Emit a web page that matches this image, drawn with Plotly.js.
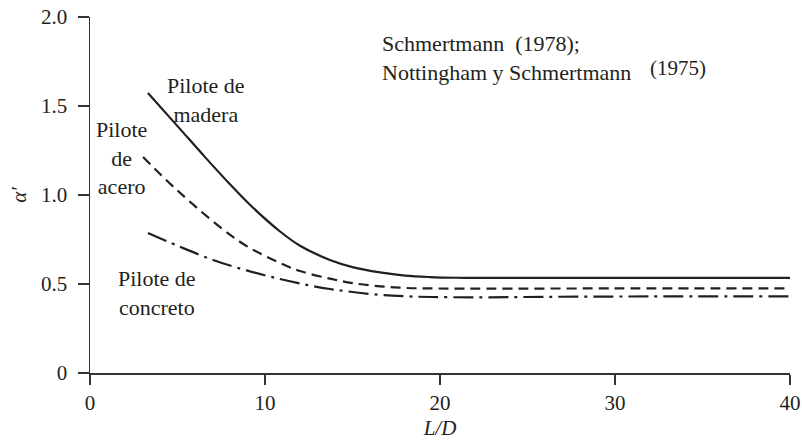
<!DOCTYPE html>
<html>
<head>
<meta charset="utf-8">
<script src="https://cdn.plot.ly/plotly-3.0.1.min.js"></script>
<style>html,body{margin:0;padding:0;background:#fff;}#chart{width:802px;height:442px;}</style>
</head>
<body>
<div id="chart"></div>
<script>
// Pilote de madera (solid)
const maderaX = [3.31, 5, 6.6, 8, 9.14, 10.86, 12, 13.71, 15, 16.57, 18, 19.43, 21, 22.3, 30, 40];
const maderaY = [1.573, 1.387, 1.21, 1.06, 0.945, 0.795, 0.715, 0.635, 0.595, 0.565, 0.547, 0.539, 0.535, 0.534, 0.534, 0.534];
// Pilote de acero (dashed)
const aceroX = [3.03, 5, 7.43, 9, 10.86, 12, 13.71, 15, 16.57, 18, 19.5, 30, 40];
const aceroY = [1.213, 1.025, 0.82, 0.71, 0.618, 0.573, 0.53, 0.505, 0.487, 0.478, 0.475, 0.475, 0.475];
// Pilote de concreto (dash-dot)
const concretoX = [3.31, 5, 7.03, 9, 10.86, 12.5, 13.71, 15, 16.57, 18, 19.5, 22, 26, 32, 40];
const concretoY = [0.787, 0.715, 0.635, 0.575, 0.528, 0.493, 0.472, 0.455, 0.439, 0.431, 0.427, 0.425, 0.428, 0.43, 0.43];

const xTicks = [0, 10, 20, 30, 40];
const xTickText = ['0', '10', '20', '30', '40'];
const yTicks = [0, 0.5, 1.0, 1.5, 2.0];
const yTickText = ['0', '0.5', '1.0', '1.5', '2.0'];

const ink = '#231f20';
const serif = '"Liberation Serif", "DejaVu Serif", serif';

const traces = [
  {x: maderaX, y: maderaY, mode: 'lines', line: {color: ink, width: 2.2, shape: 'spline', smoothing: 1}},
  {x: aceroX, y: aceroY, mode: 'lines', line: {color: ink, width: 2.2, dash: '10px,6px', shape: 'spline', smoothing: 1}},
  {x: concretoX, y: concretoY, mode: 'lines', line: {color: ink, width: 2.2, dash: '20px,6px,3px,6px', shape: 'spline', smoothing: 1}}
];

const tf = {family: serif, size: 22, color: ink};
const layout = {
  width: 802, height: 442,
  margin: {l: 90, r: 12, t: 17, b: 69},
  paper_bgcolor: '#fff', plot_bgcolor: '#fff',
  showlegend: false,
  font: {family: serif, color: ink},
  xaxis: {
    range: [0, 40], tickvals: xTicks, ticktext: xTickText,
    showgrid: false, zeroline: false, showline: true, linecolor: '#333', linewidth: 1.5,
    ticks: 'outside', ticklen: 10, tickwidth: 1.5, tickcolor: '#333',
    tickfont: {family: serif, size: 21, color: ink},
    title: {text: '<i>L/D</i>', font: {family: serif, size: 21, color: ink}, standoff: 6},
    automargin: false, fixedrange: true
  },
  yaxis: {
    range: [0, 2], tickvals: yTicks, ticktext: yTickText,
    showgrid: false, zeroline: false, showline: true, linecolor: '#333', linewidth: 1.5,
    ticks: 'outside', ticklen: 11, tickwidth: 1.5, tickcolor: '#333',
    ticklabelstandoff: 6,
    tickfont: {family: serif, size: 21, color: ink},
    title: {text: '<i>α′</i>', font: {family: serif, size: 21, color: ink}, standoff: 8},
    automargin: false, fixedrange: true
  },
  annotations: [
    {x: 6.65, y: 1.534, xref: 'x', yref: 'y', text: 'Pilote de<br>madera', showarrow: false, font: tf, align: 'center', xanchor: 'center', yanchor: 'middle'},
    {x: 1.78, y: 1.208, xref: 'x', yref: 'y', text: 'Pilote<br>de<br>acero', showarrow: false, font: tf, align: 'center', xanchor: 'center', yanchor: 'middle'},
    {x: 3.84, y: 0.447, xref: 'x', yref: 'y', text: 'Pilote de<br>concreto', showarrow: false, font: tf, align: 'center', xanchor: 'center', yanchor: 'middle'},
    {x: 16.57, y: 1.767, xref: 'x', yref: 'y', text: 'Schmertmann  (1978);<br>Nottingham y Schmertmann', showarrow: false, font: tf, align: 'left', xanchor: 'left', yanchor: 'middle'},
    {x: 31.9, y: 1.713, xref: 'x', yref: 'y', text: '(1975)', showarrow: false, font: {family: serif, size: 21, color: ink}, align: 'left', xanchor: 'left', yanchor: 'middle'}
  ]
};

Plotly.newPlot('chart', traces, layout, {staticPlot: true, displayModeBar: false});
</script>
</body>
</html>
